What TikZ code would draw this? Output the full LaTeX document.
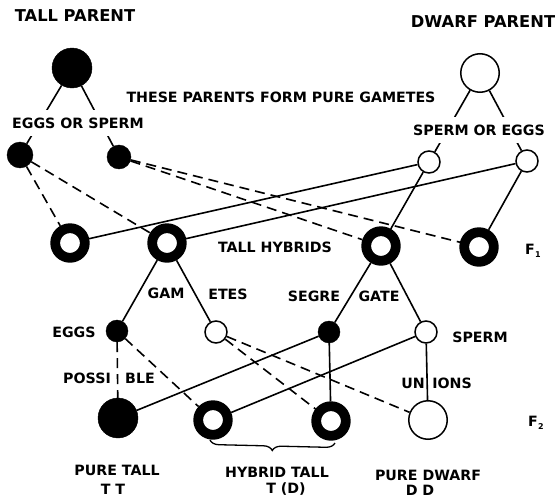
\documentclass[tikz,border=0pt]{standalone}
\usepackage{fontspec}
\setmainfont{DejaVu Sans}
\usetikzlibrary{decorations.pathreplacing}
\begin{document}
\begin{tikzpicture}[x=1pt,y=-1pt,
  lab/.style={font=\fontsize{14.2}{16}\selectfont\bfseries, inner sep=0pt},
  biglab/.style={font=\fontsize{16.3}{18}\selectfont\bfseries, inner sep=0pt},
  gaplab/.style={lab, fill=white, inner xsep=1pt, inner ysep=8pt},
  fullc/.style={circle, fill=black, draw=black, line width=0.4pt, inner sep=0pt},
  openc/.style={circle, draw=black, fill=white, line width=1.5pt, inner sep=0pt},
  ringc/.style={circle, draw=black, fill=white, line width=9.8pt, minimum size=29.6pt, inner sep=0pt},
  conn/.style={line width=1.6pt},
  dconn/.style={line width=1.6pt, dash pattern=on 10pt off 6pt},
]
\useasboundingbox (0,0) rectangle (555,498);

% parents
\node[fullc, minimum size=40pt] (TP) at (72,68) {};
\node[openc, minimum size=38.5pt] (DP) at (480,73) {};
% parental gametes
\node[fullc, minimum size=26pt] (g1) at (20,155) {};
\node[fullc, minimum size=24pt] (g2) at (119,157) {};
\node[openc, minimum size=22pt] (d1) at (429,162) {};
\node[openc, minimum size=22pt] (d2) at (527,161) {};
% F1 hybrids
\node[ringc] (h1) at (70,243) {};
\node[ringc] (h2) at (167,243) {};
\node[ringc] (h3) at (381,246) {};
\node[ringc] (h4) at (479,247) {};
% F1 gametes
\node[fullc, minimum size=22pt] (e1) at (117,331) {};
\node[openc, minimum size=22pt] (s1) at (216,332) {};
\node[fullc, minimum size=22pt] (e2) at (329,332) {};
\node[openc, minimum size=22pt] (s2) at (426,332) {};
% F2
\node[fullc, minimum size=40pt] (o1) at (118,418) {};
\node[ringc] (o2) at (213,420) {};
\node[ringc] (o3) at (331,421) {};
\node[openc, minimum size=38.5pt] (o4) at (428,420) {};

% parent to gametes
\draw[conn] (TP) -- (g1);
\draw[conn] (TP) -- (g2);
\draw[conn] (DP) -- (d1);
\draw[conn] (DP) -- (d2);
% fertilisation F1
\draw[dconn] (g1) -- (h1);
\draw[dconn] (g1) -- (h2);
\draw[dconn] (g2) -- (h3);
\draw[dconn] (g2) -- (h4);
\draw[conn] (d1) -- (h1);
\draw[conn] (d1) -- (h3);
\draw[conn] (d2) -- (h2);
\draw[conn] (d2) -- (h4);
% segregation
\draw[conn] (h2) -- (e1);
\draw[conn] (h2) -- (s1);
\draw[conn] (h3) -- (e2);
\draw[conn] (h3) -- (s2);
% F2 unions
\draw[dconn] (e1) -- (o1);
\draw[dconn] (e1) -- (o2);
\draw[dconn] (s1) -- (o3);
\draw[dconn] (s1) -- (o4);
\draw[conn] (e2) -- (o1);
\draw[conn] (e2) -- (o3);
\draw[conn] (s2) -- (o2);
\draw[conn] (s2) -- (o4);

% brace
\coordinate (bl) at (210,440);
\coordinate (br) at (335,443);
\draw[line width=1.3pt, decorate, decoration={brace, mirror, amplitude=9pt}] (bl) -- (br);

% labels
\node[biglab] (tTP) at (75,16) {TALL PARENT};
\node[biglab] (tDP) at (483,22) {DWARF PARENT};
\node[lab] (tPure) at (281,97) {THESE PARENTS FORM PURE GAMETES};
\node[gaplab] (tEoS) at (78,123) {EGGS OR SPERM};
\node[gaplab] (tSoE) at (479,130) {SPERM OR EGGS};
\node[lab] (tTH) at (275,247) {TALL HYBRIDS};
\node[lab] (tF1) at (533,251) {F\kern0.3pt\raisebox{-3pt}{\fontsize{8}{8}\selectfont 1}};
\node[lab] (tGam) at (166,293) {GAM};
\node[lab] (tEtes) at (228,294) {ETES};
\node[lab] (tSeg) at (314,296) {SEGRE};
\node[lab] (tGate) at (379,296) {GATE};
\node[lab] (tEggs) at (74,332) {EGGS};
\node[lab] (tSperm) at (480,337) {SPERM};
\node[lab] (tPossi) at (87,378) {POSSI};
\node[lab] (tBle) at (140,378) {BLE};
\node[lab] (tUn) at (413,383) {UN};
\node[lab] (tIons) at (452,383) {IONS};
\node[lab] (tF2) at (536,423) {F\kern0.3pt\raisebox{-3pt}{\fontsize{8}{8}\selectfont 2}};
\node[lab] (tPT) at (117,470) {PURE TALL};
\node[lab] (tTT) at (113,489) {T\,\,T};
\node[lab] (tHT) at (277,472) {HYBRID TALL};
\node[lab] (tTD) at (286,489) {T (D)};
\node[lab] (tPD) at (428,475) {PURE DWARF};
\node[lab] (tDD) at (420,490) {D\,\,D};
\end{tikzpicture}
\end{document}
